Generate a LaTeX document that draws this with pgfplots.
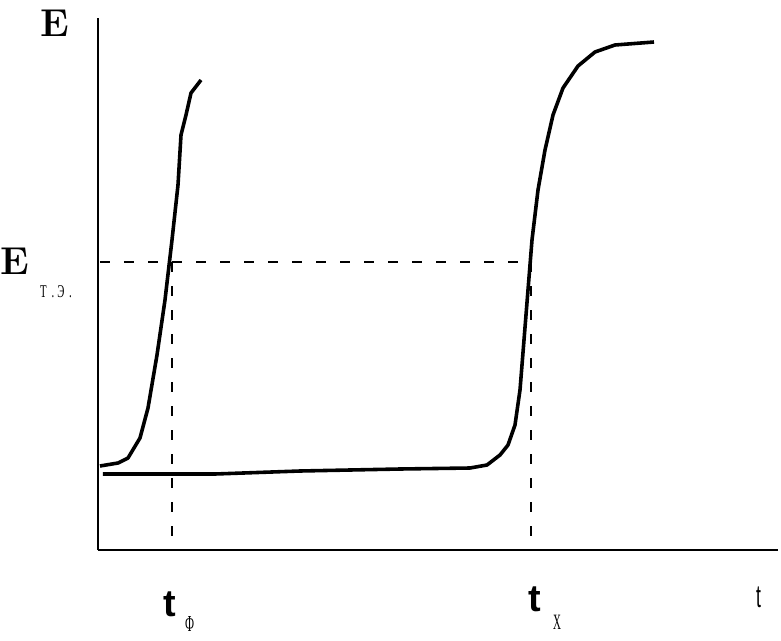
\documentclass[border=0pt]{standalone}
\usepackage{fontspec}
\usepackage{pgfplots}
\pgfplotsset{compat=1.18}
\newfontfamily\lsans{Liberation Sans}
\newfontfamily\lserif{Liberation Serif}
\begin{document}
\begin{tikzpicture}
\begin{axis}[
  scale only axis, width=680bp, height=532bp,
  xmin=98, xmax=778, ymin=90, ymax=622,
  axis lines=left, axis line style={-, line width=1.2pt},
  xtick=\empty, ytick=\empty, clip=false,
]
% curve 1 (pixel coords, y = 640 - py)
\addplot[black, line width=3.6pt, line join=round] coordinates {
(100,174) (118,177) (128,182) (140,202) (148,232) (157,285) (165,340) (172,400) (178,455) (181,505) (186,525) (191,547) (201,560)
};
% curve 2
\addplot[black, line width=3.6pt, line join=round] coordinates {
(103,166) (215,166) (300,169) (400,171) (470,172) (487,175) (500,185) (508,195) (515,215) (520,250) (524,300) (528,350) (532,400) (538,450) (545,490) (553,525) (563,552) (578,574) (595,588) (615,595) (654,598)
};
% dashed guides
\addplot[black, line width=1.1pt, dash pattern=on 10bp off 14bp] coordinates {(100,378) (531,378)};
\addplot[black, line width=1.1pt, dash pattern=on 10bp off 14bp] coordinates {(172,378) (172,90)};
\addplot[black, line width=1.1pt, dash pattern=on 10bp off 14bp] coordinates {(531,378) (531,90)};
% labels
\node[anchor=base west, inner sep=0pt] at (axis cs:40,603) {\fontsize{39}{40}\selectfont\bfseries E};
\node[anchor=base west, inner sep=0pt] at (axis cs:0,365) {\fontsize{39}{40}\selectfont\bfseries E};
\node[anchor=base west, inner sep=0pt] at (axis cs:40,343) {\lserif\fontsize{18}{18}\selectfont\scalebox{0.6}[1]{Т\hspace{8bp}.\hspace{5bp}Э\hspace{8bp}.}};
\node[anchor=base west, inner sep=0pt] at (axis cs:163,24) {\lsans\fontsize{38}{40}\selectfont\bfseries t};
\node[anchor=base west, inner sep=0pt] at (axis cs:185,9) {\lserif\fontsize{23}{24}\selectfont\scalebox{0.5}[1]{Ф}};
\node[anchor=base west, inner sep=0pt] at (axis cs:528,29) {\lsans\fontsize{38}{40}\selectfont\bfseries t};
\node[anchor=base west, inner sep=0pt] at (axis cs:553,11) {\lserif\fontsize{22}{24}\selectfont\scalebox{0.5}[1]{Х}};
\node[anchor=base west, inner sep=0pt] at (axis cs:756,33) {\lsans\fontsize{32}{34}\selectfont\scalebox{0.55}[1]{t}};
\path (axis cs:0,0) rectangle (axis cs:781,640);
\end{axis}
\end{tikzpicture}
\end{document}
